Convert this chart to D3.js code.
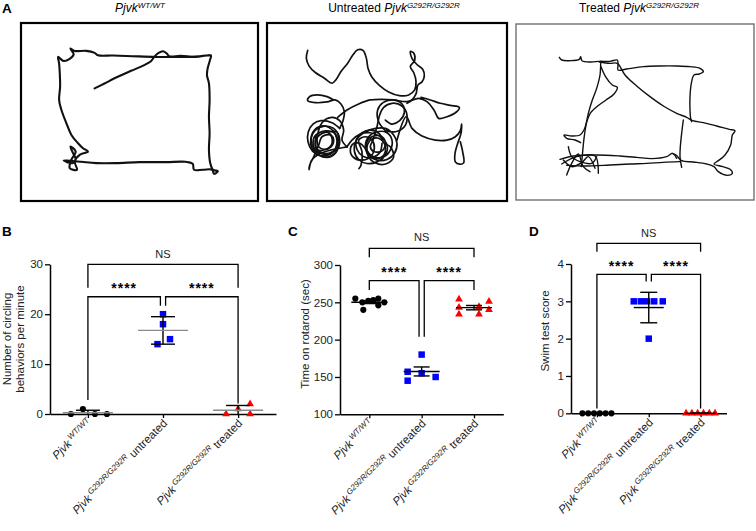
<!DOCTYPE html>
<html><head><meta charset="utf-8">
<script src="https://cdn.jsdelivr.net/npm/d3@7"></script>
<style>body{margin:0;background:#fff} svg{display:block}</style>
</head><body><svg id="fig" width="756" height="531"></svg>
<script>
// ---------------- DATA ----------------
const categories = ["WT", "untreated", "treated"];
const xLabelSup = ["WT/WT", "G292R/G292R", "G292R/G292R"];
const xLabelRest = ["", " untreated", " treated"];

// Panel B: circling behaviors per minute
const circlingWT = [0, 1, 0, 0];
const circlingUntreated = [20, 18, 14, 15];
const circlingTreated = [0, 1, 2, 0];
const circlingTicks = [0, 10, 20, 30];
const circlingJitter = [[-17, -5, 7, 19], [0, 0, -5.5, 7], [-12, 0, 12, 12]];

// Panel C: time on rotarod (sec)
const rotarodWT = [255, 240, 250, 252, 253, 255, 246, 250];
const rotarodUntreated = [180, 157, 145, 155, 150];
const rotarodTreated = [254, 243, 234, 244, 234, 251, 240];
const rotarodTicks = [100, 150, 200, 250, 300];
const rotarodJitter = [[-14, -6, -7, -1, 4, 9, 9, 15], [0, -14, -14, 0, 14], [-15, -15, -15, 5, 5, 15, 15]];

// Panel D: swim test score
const swimWT = [0, 0, 0, 0, 0, 0];
const swimUntreated = [3, 3, 3, 3, 3, 2];
const swimTreated = [0, 0, 0, 0, 0, 0];
const swimTicks = [0, 1, 2, 3, 4];
const swimJitter = [[-14.5, -8.7, -2.9, 2.9, 8.7, 14.5], [-15, -8, -1.5, 5.5, 14, 0], [-14.5, -8.7, -2.9, 2.9, 8.7, 14.5]];

// Panel A: open-field tracks (tracking units; arena extents below)
const arenaX = [[63, 778], [50, 770], [48, 762]];
const arenaY = [[68, 604], [70, 602], [72, 600]];
const trackWT = [[
  [285,265],[315,250],[355,230],[395,212],[430,197],[455,183],[465,170],[478,158],[492,153],[503,160],[510,168],
  [545,167],[590,170],[636,166],[633,180],[626,205],[624,225],[630,250],[632,300],[630,350],[632,400],[630,450],
  [634,490],[642,510],[657,514],[645,522],[640,510],[612,510],[585,510],[581,492],[560,486],[500,487],[420,487],
  [350,490],[290,490],[245,486],[210,483],[192,482],[218,490],[228,478],[220,460],[212,440],[228,455],[215,480],
  [210,505],[232,510],[225,485],[240,465],[265,455],[250,445],[235,430],[215,405],[200,370],[185,330],[178,300],
  [181,260],[180,220],[178,190],[175,170],[190,182],[210,176],[222,162],[212,145],[225,152],[260,152],[285,158],
  [295,165],[340,166],[400,168],[470,170],[540,170],[600,168],[636,165]
]];
const trackUntreated = [
  [[172,152],[168,175],[176,198],[195,218],[222,235],[245,250],[258,238],[272,215],[292,190],[308,165],[322,150],
   [338,152],[348,175],[353,205],[365,232],[388,257],[415,276],[447,287],[475,285],[493,270],[497,245],[491,220],
   [480,200],[493,182],[490,160],[480,155],[486,178],[502,196],[517,208],[522,228],[515,246],[503,255],[497,282],
   [485,300],[470,310]],
  [[250,300],[230,290],[200,285],[178,290],[172,302],[195,308],[230,306],[255,300],[272,312],[282,335],[278,362],[268,385]],
  [[262,352],[290,330],[325,312],[360,300],[395,298],[430,300],[470,305],[505,295],[530,305],[552,332],[565,355],
   [590,350],[618,336],[627,322],[600,316],[570,310],[540,300],[512,292]],
  [[440,420],[468,350],[485,385],[515,408],[555,420],[590,420],[615,410],[630,392],[634,372],[632,400],[622,430],
   [614,460],[615,485],[628,492],[640,488],[637,455],[630,425]],
  [[268,385],[245,368],[212,362],[188,372],[174,395],[173,425],[186,452],[212,466],[240,462],[258,438],[256,405],
   [236,382],[206,380],[186,400],[184,432],[200,458],[230,472],[255,458],[268,428],[260,396],[240,395],[215,400],
   [196,420],[200,448],[225,448],[245,430],[240,405],[215,410],[205,435],[190,470],[178,495],[176,508],[184,480],
   [205,462],[240,450],[265,445],[290,440]],
  [[262,425],[253,450],[228,460],[203,450],[195,425],[205,400],[230,392],[255,402],[262,425],[258,455],[235,470],
   [205,465],[185,445],[182,415],[195,390],[222,378],[250,385],[265,410],[262,440],[245,458],[220,462],[198,452],
   [188,428],[196,405],[218,395],[240,402],[250,420],[242,440],[222,448],[205,440],[200,420],[215,368],[245,352],
   [268,362],[280,390],[275,420],[290,440]],
  [[290,440],[305,420],[330,402],[360,398],[390,410],[410,435],[405,465],[380,485],[350,490],[325,478],[312,452],
   [318,420],[340,398],[375,385],[405,385],[430,405],[440,430],[432,460],[410,478],[380,480],[355,465],[345,438],
   [355,410],[380,395],[410,398],[425,420],[420,450],[400,470],[370,470],[350,450],[350,425],[370,408],[395,410],
   [405,430],[395,452],[372,455],[360,440],[368,420],[380,380],[388,345],[400,322],[425,310],[455,318],[470,345],
   [462,380],[435,395],[405,392]],
  [[395,430],[388,458],[365,472],[338,468],[320,448],[318,420],[335,398],[362,390],[388,402],[400,428],[420,440],
   [430,470],[410,490],[385,492],[362,480],[350,458],[352,432],[368,415],[392,418],[405,440],[400,465],[378,475],
   [358,465],[345,445],[330,430],[310,430],[300,450],[310,472],[335,480],[360,470],[372,445],[365,420],[345,410],
   [325,420],[335,455],[332,495],[326,505]],
  [[405,392],[385,365],[382,330],[398,308],[428,300],[455,312],[462,338],[448,362],[425,372],[405,360]]
];
const trackTreated = [
  [[178,172],[185,180],[210,182],[238,178],[242,170],[246,182],[272,186],[298,184],[330,184],[352,180],[354,195],
   [354,210],[380,207],[430,200],[480,198],[530,198],[570,200],[600,205],[610,215],[598,222],[582,225],[574,250],
   [570,290],[570,330],[572,355],[575,365]],
  [[298,186],[330,190],[352,190],[375,225],[410,258],[450,290],[490,318],[530,340],[560,352],[578,362],[610,368],
   [650,378],[688,388],[705,392],[697,405],[692,435],[675,465],[655,482],[642,492],[668,500],[690,508],[697,520],
   [682,526],[655,515],[642,500],[620,492],[580,486],[545,482],[528,465],[520,462]],
  [[302,190],[300,225],[290,265],[277,300],[265,340],[258,375],[252,415],[248,455],[244,500]],
  [[303,200],[318,232],[337,255],[352,262],[342,282],[318,300],[293,318],[272,338],[262,360],[252,390],[240,405],
   [215,408],[192,405],[200,415],[225,420],[242,428]],
  [[550,360],[545,400],[541,440],[540,470],[545,502]],
  [[180,478],[220,468],[290,465],[360,468],[410,472],[455,476],[500,470],[518,460],[530,475]],
  [[200,496],[260,498],[330,495],[390,492],[440,490],[490,487],[540,485]],
  [[185,492],[230,470],[285,468],[295,520]],
  [[200,525],[215,490],[235,462],[250,500],[270,515]],
  [[205,440],[215,470],[240,485],[275,490],[290,470]],
  [[190,480],[215,500],[245,488],[265,470],[285,505]]
];

// ---------------- DRAWING ----------------
const FONT = '"Liberation Sans", Arial, Helvetica, sans-serif';
const svg = d3.select("#fig").style("font-family", FONT);
const colors = ["#000000", "#0000ff", "#ff0000"];
const symbols = [d3.symbolCircle, d3.symbolSquare, d3.symbolTriangle];
const symSizes = [30, 42, 26];

// Panel letters
[["A", 2, 13], ["B", 2, 236], ["C", 288, 236], ["D", 529, 236]].forEach(([t, x, y]) =>
  svg.append("text").attr("x", x).attr("y", y).attr("font-size", 13.5).attr("font-weight", "bold").text(t));

// Panel A
const boxes = [[21, 258, 23, 201], [267, 507, 23, 201], [516, 754, 24, 200]];
const boxStroke = [["#000", 2.2], ["#000", 2.2], ["#666", 1.3]];
const trackWidth = [2.1, 1.7, 1.4];
const tracks = [trackWT, trackUntreated, trackTreated];
const titlePre = ["", "Untreated ", "Treated "];
const titleCx = [140, 394, 639];
boxes.forEach((b, i) => {
  const sx = d3.scaleLinear().domain(arenaX[i]).range([b[0], b[1]]);
  const sy = d3.scaleLinear().domain(arenaY[i]).range([b[2], b[3]]);
  svg.append("rect").attr("x", b[0]).attr("y", b[2]).attr("width", b[1] - b[0]).attr("height", b[3] - b[2])
    .attr("fill", "#fff").attr("stroke", boxStroke[i][0]).attr("stroke-width", boxStroke[i][1]);
  const line = d3.line().x(d => sx(d[0])).y(d => sy(d[1])).curve(d3.curveCatmullRom.alpha(0.5));
  tracks[i].forEach(seg => svg.append("path").attr("d", line(seg)).attr("fill", "none")
    .attr("stroke", "#111").attr("stroke-width", trackWidth[i]).attr("stroke-linejoin", "round").attr("stroke-linecap", "round"));
  const t = svg.append("text").attr("x", titleCx[i]).attr("y", 12.3).attr("text-anchor", "middle").attr("font-size", 12);
  if (titlePre[i]) t.append("tspan").text(titlePre[i]);
  t.append("tspan").attr("font-style", "italic").text("Pjvk");
  t.append("tspan").attr("font-style", "italic").attr("font-size", 8).attr("dy", -4.5).text(xLabelSup[i === 0 ? 0 : 1]);
});

function statPanel(cfg) {
  const g = svg.append("g");
  const x = d3.scalePoint().domain(categories).range(cfg.xRange).padding(cfg.pad);
  const y = d3.scaleLinear().domain(cfg.yDomain).range(cfg.yRange);

  // axes
  const ya = g.append("g").attr("transform", `translate(${cfg.xRange[0]},0)`)
    .call(d3.axisLeft(y).tickValues(cfg.ticks).tickFormat(d3.format("d")).tickSize(5).tickSizeOuter(0).tickPadding(2));
  ya.select(".domain").attr("stroke-width", 1.5);
  ya.selectAll(".tick line").attr("stroke-width", 1.3);
  ya.selectAll("text").attr("font-size", 11.5).attr("font-family", FONT).attr("fill", "#222");
  const xa = g.append("g").attr("transform", `translate(0,${cfg.yRange[0]})`)
    .call(d3.axisBottom(x).tickSize(4).tickSizeOuter(0).tickFormat(""));
  xa.select(".domain").attr("stroke-width", 1.5);
  xa.selectAll(".tick line").attr("stroke-width", 1.3);

  // x labels
  categories.forEach((c, i) => {
    const t = g.append("text").attr("transform", `translate(${x(c) + 5},${cfg.yRange[0] + 10}) rotate(-45)`)
      .attr("text-anchor", "end").attr("font-size", 11.5).attr("fill", "#222");
    t.append("tspan").attr("font-style", "italic").text("Pjvk");
    t.append("tspan").attr("font-style", "italic").attr("font-size", 8).attr("dx", 2).attr("dy", -4.5).text(xLabelSup[i]);
    if (xLabelRest[i]) t.append("tspan").attr("dy", 4.5).text(xLabelRest[i]);
  });

  // y label
  cfg.yLabel.forEach((l, k) => {
    g.append("text").attr("transform", `translate(${cfg.yLabelX[k]},${cfg.yLabelCy}) rotate(-90)`)
      .attr("text-anchor", "middle").attr("font-size", 11.5).attr("fill", "#222").text(l);
  });

  // points
  cfg.series.forEach((vals, i) => {
    const sym = d3.symbol().type(symbols[i]).size(symSizes[i]);
    g.selectAll(null).data(vals).join("path")
      .attr("d", sym)
      .attr("transform", (d, j) => `translate(${x(categories[i]) + cfg.jitter[i][j]},${y(d)})`)
      .attr("fill", colors[i]);
  });

  // mean and error bars
  cfg.series.forEach((vals, i) => {
    const m = d3.mean(vals);
    let e = d3.deviation(vals) || 0;
    if (cfg.err === "sem") e = e / Math.sqrt(vals.length);
    const cx = x(categories[i]);
    const lo = Math.max(cfg.yDomain[0], m - e), hi = m + e;
    g.append("line").attr("x1", cx).attr("x2", cx).attr("y1", y(lo)).attr("y2", y(hi)).attr("stroke", "#000").attr("stroke-width", 1.4);
    [lo, hi].forEach(v => {
      if (v === cfg.yDomain[0] && m - e < cfg.yDomain[0]) return;
      g.append("line").attr("x1", cx - cfg.capW).attr("x2", cx + cfg.capW).attr("y1", y(v)).attr("y2", y(v)).attr("stroke", "#000").attr("stroke-width", 1.4);
    });
    g.append("line").attr("x1", cx - cfg.meanW).attr("x2", cx + cfg.meanW).attr("y1", y(m)).attr("y2", y(m))
      .attr("stroke", cfg.meanColor).attr("stroke-width", 1.4);
  });

  // significance brackets
  const x0 = x(categories[0]), x1 = x(categories[1]), x2 = x(categories[2]);
  const br = cfg.brackets;
  const path = pts => g.append("path").attr("d", d3.line()(pts)).attr("fill", "none").attr("stroke", "#000").attr("stroke-width", 1.3);
  path([[x0, y(br.nsDrop)], [x0, y(br.ns)], [x2, y(br.ns)], [x2, y(br.nsDrop)]]);
  path([[x0, y(br.outerDrop)], [x0, y(br.sig)], [x1 - 2.6, y(br.sig)], [x1 - 2.6, y(br.innerDrop)]]);
  path([[x1 + 2.6, y(br.innerDrop)], [x1 + 2.6, y(br.sig)], [x2, y(br.sig)], [x2, y(br.outerDrop2)]]);
  g.append("text").attr("x", (x0 + x2) / 2).attr("y", y(br.ns) - 6.8).attr("text-anchor", "middle").attr("font-size", 11).attr("fill", "#222").text("NS");
  [(x0 + x1 - 2.6) / 2, (x1 + 2.6 + x2) / 2].forEach(cx =>
    g.append("text").attr("x", cx).attr("y", y(br.sig) - 3.4).attr("text-anchor", "middle").attr("font-size", 14)
      .attr("font-weight", "bold").attr("letter-spacing", 1).text("****"));
}

statPanel({
  xRange: [50, 276], pad: 0.505, yDomain: [0, 30], yRange: [414, 264.3], ticks: circlingTicks,
  series: [circlingWT, circlingUntreated, circlingTreated], jitter: circlingJitter,
  err: "sd", meanW: 25, capW: 12, meanColor: "#8a8a8a",
  yLabel: ["Number of circling", "behaviors per minute"], yLabelX: [10.5, 23.5], yLabelCy: 339,
  brackets: { ns: 30, nsDrop: 25.3, sig: 23.5, outerDrop: 2.8, outerDrop2: 2.1, innerDrop: 21.7 }
});
statPanel({
  xRange: [340, 503.3], pad: 0.56, yDomain: [100, 300], yRange: [414.3, 265], ticks: rotarodTicks,
  series: [rotarodWT, rotarodUntreated, rotarodTreated], jitter: rotarodJitter,
  err: "sem", meanW: 18, capW: 8, meanColor: "#000",
  yLabel: ["Time on rotarod (sec)"], yLabelX: [309], yLabelCy: 334,
  brackets: { ns: 322.4, nsDrop: 310.3, sig: 279, outerDrop: 266.5, outerDrop2: 266.5, innerDrop: 204 }
});
statPanel({
  xRange: [571, 726.5], pad: 0.5, yDomain: [0, 4], yRange: [413.3, 264], ticks: swimTicks,
  series: [swimWT, swimUntreated, swimTreated], jitter: swimJitter,
  err: "sd", meanW: 15, capW: 8.5, meanColor: "#000",
  yLabel: ["Swim test score"], yLabelX: [549], yLabelCy: 331,
  brackets: { ns: 4.55, nsDrop: 4.33, sig: 3.72, outerDrop: 0.13, outerDrop2: 0.13, innerDrop: 3.53 }
});
</script></body></html>
